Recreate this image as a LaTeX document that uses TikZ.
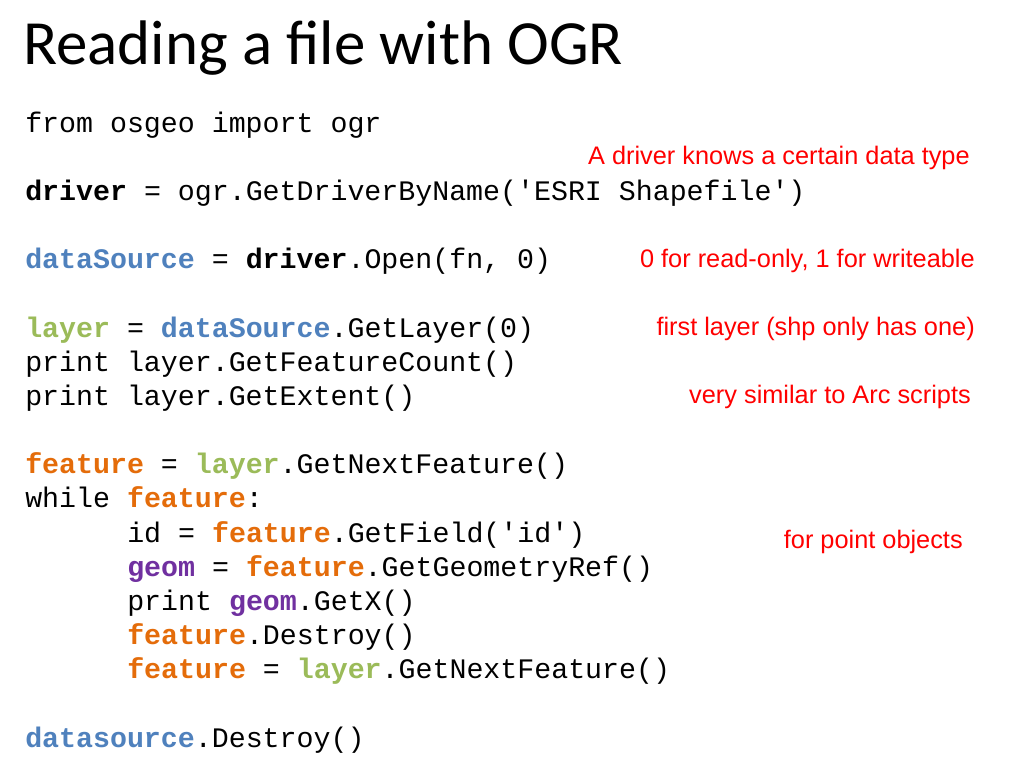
\documentclass[tikz,border=0pt]{standalone}
\usepackage{fontspec}
\setmainfont{Liberation Sans}
\setmonofont{Liberation Mono}
\newfontfamily\titlefont{Carlito}
\definecolor{dsblue}{HTML}{4F81BD}
\definecolor{lygreen}{HTML}{9BBB59}
\definecolor{ftorange}{HTML}{E46C0A}
\definecolor{gmpurple}{HTML}{7030A0}
\newcommand{\codevar}[2]{\textbf{\color{#1}#2}}
\tikzset{
  codeline/.style={anchor=base west, inner sep=0pt, font=\ttfamily\fontsize{21.2}{25}\selectfont},
  nota/.style={anchor=base east, inner sep=0pt, text=red, font=\fontsize{19}{23}\selectfont},
}
\begin{document}
\begin{tikzpicture}[x=0.75pt, y=-0.75pt]
        % Fondo de la diapositiva
        \fill[white] (0,0) rectangle (1024,768);
        \useasboundingbox (0,0) rectangle (1024,768);
        % Titulo
        \node[anchor=base west, inner sep=0pt, font=\titlefont\fontsize{47.2}{52}\selectfont] (titulo) at (23,64) {Reading a file with OGR};
        % Codigo
        \node[codeline] (c0) at (25,132) {from osgeo import ogr};
        \node[codeline] (c2) at (25,200.3) {\textbf{driver} = ogr.GetDriverByName('ESRI Shapefile')};
        \node[codeline] (c4) at (25,268.7) {\codevar{dsblue}{dataSource} = \textbf{driver}.Open(fn, 0)};
        \node[codeline] (c6) at (25,337) {\codevar{lygreen}{layer} = \codevar{dsblue}{dataSource}.GetLayer(0)};
        \node[codeline] (c7) at (25,371.2) {print layer.GetFeatureCount()};
        \node[codeline] (c8) at (25,405.4) {print layer.GetExtent()};
        \node[codeline] (c10) at (25,473.7) {\codevar{ftorange}{feature} = \codevar{lygreen}{layer}.GetNextFeature()};
        \node[codeline] (c11) at (25,507.9) {while \codevar{ftorange}{feature}:};
        \node[codeline] (c12) at (127,542) {id = \codevar{ftorange}{feature}.GetField('id')};
        \node[codeline] (c13) at (127,576.2) {\codevar{gmpurple}{geom} = \codevar{ftorange}{feature}.GetGeometryRef()};
        \node[codeline] (c14) at (127,610.4) {print \codevar{gmpurple}{geom}.GetX()};
        \node[codeline] (c15) at (127,644.6) {\codevar{ftorange}{feature}.Destroy()};
        \node[codeline] (c16) at (127,678.7) {\codevar{ftorange}{feature} = \codevar{lygreen}{layer}.GetNextFeature()};
        \node[codeline] (c18) at (25,747) {\codevar{dsblue}{datasource}.Destroy()};
        % Notas en rojo
        \node[nota] (n1) at (970,164) {A driver knows a certain data type};
        \node[nota] (n2) at (975,267) {0 for read-only, 1 for writeable};
        \node[nota] (n3) at (975,335) {first layer (shp only has one)};
        \node[nota] (n4) at (971,403) {very similar to Arc scripts};
        \node[nota] (n5) at (963,548) {for point objects};
\end{tikzpicture}
\end{document}
